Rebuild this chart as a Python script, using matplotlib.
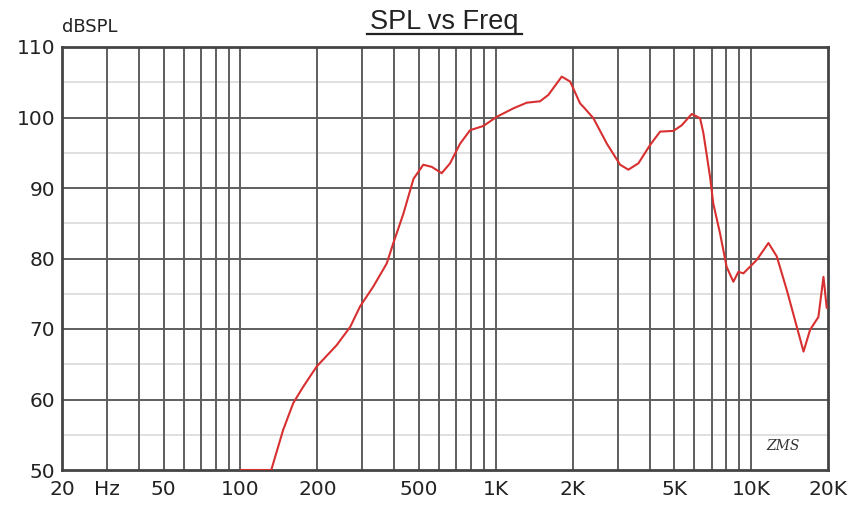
import matplotlib
matplotlib.use("Agg")
import matplotlib.pyplot as plt
from matplotlib.lines import Line2D
from matplotlib.ticker import FixedLocator, NullFormatter, NullLocator

# ---- data ----
freq_hz = [100, 132, 147, 161, 176, 199, 238, 269, 294, 331, 374, 397, 435, 476,
           520, 561, 614, 662, 725, 793, 894, 1009, 1172, 1322, 1490, 1606, 1812,
           1955, 2138, 2204, 2411, 2721, 3068, 3306, 3618, 4020, 4400, 4959,
           5350, 5853, 6310, 6500, 6903, 7108, 7550, 8020, 8520, 8910, 9330,
           10520, 11690, 12600, 13800, 15100, 16040, 17020, 18340, 19200, 19770]
spl_db = [50.0, 50.0, 55.7, 59.5, 61.8, 64.7, 67.7, 70.3, 73.2, 76.0, 79.3, 82.2,
          86.4, 91.3, 93.3, 93.0, 92.1, 93.5, 96.3, 98.2, 98.8, 100.1, 101.3,
          102.1, 102.3, 103.2, 105.8, 105.1, 102.0, 101.5, 99.9, 96.3, 93.3,
          92.6, 93.5, 96.1, 98.0, 98.1, 98.9, 100.5, 99.9, 97.8, 91.6, 87.8,
          83.6, 78.8, 76.7, 78.1, 77.9, 79.8, 82.2, 80.3, 75.5, 70.3, 66.8,
          69.9, 71.7, 77.4, 73.0]

x_tick_pos = [20, 30, 50, 100, 200, 500, 1000, 2000, 5000, 10000, 20000]
x_tick_labels = ["20", "Hz", "50", "100", "200", "500", "1K", "2K", "5K", "10K", "20K"]
y_ticks = [50, 60, 70, 80, 90, 100, 110]
y_minor = [55, 65, 75, 85, 95, 105]
v_grid = ([30, 40, 50, 60, 70, 80, 90, 100, 200, 300, 400, 500, 600, 700, 800, 900,
           1000, 2000, 3000, 4000, 5000, 6000, 7000, 8000, 9000, 10000])

plt.rcParams["font.family"] = ["DejaVu Sans"]

# ---- figure ----
fig = plt.figure(figsize=(8.53, 5.12), dpi=100)
fig.patch.set_facecolor("white")
ax = fig.add_axes([62/853, 42/512, 766/853, 423/512])

ax.set_xscale("log")
ax.set_xlim(20, 20000)
ax.set_ylim(50, 110)

grid_col = "#5e5e5e"
for f in v_grid:
    ax.axvline(f, color=grid_col, lw=1.4, zorder=1)
for y in y_ticks[1:-1]:
    ax.axhline(y, color=grid_col, lw=1.4, zorder=1)
for y in y_minor:
    ax.axhline(y, color="#dadada", lw=1.2, zorder=0.5)

ax.plot(freq_hz, spl_db, color="#d83030", lw=1.5, zorder=3, clip_on=True,
        solid_joinstyle="round", solid_capstyle="round")

ax.xaxis.set_major_locator(FixedLocator(x_tick_pos))
ax.set_xticklabels(x_tick_labels)
ax.xaxis.set_minor_locator(NullLocator())
ax.xaxis.set_minor_formatter(NullFormatter())
ax.set_yticks(y_ticks)
ax.set_yticklabels([str(v) for v in y_ticks])
ax.tick_params(axis="both", length=0, labelsize=14.5, colors="#222222")
ax.tick_params(axis="x", pad=7)
ax.tick_params(axis="y", pad=5)

for s in ax.spines.values():
    s.set_color("#444444")
    s.set_linewidth(2.0)

ax.text(0.0, 1.025, "dBSPL", transform=ax.transAxes, ha="left", va="bottom",
        fontsize=13, color="#222222")

fig.text(444/853, 1 - 29/512, "SPL vs Freq", ha="center", va="baseline",
         fontsize=19.5, family="Liberation Sans", color="#222222")
fig.add_artist(Line2D([367/853, 522/853], [1 - 34/512, 1 - 34/512],
                      color="#222222", lw=1.6))

ax.text(0.963, 0.04, "ZMS", transform=ax.transAxes, ha="right", va="bottom",
        fontsize=10, style="italic", family="DejaVu Serif", color="#333333")

fig.savefig("out.png", dpi=100, facecolor="white")
